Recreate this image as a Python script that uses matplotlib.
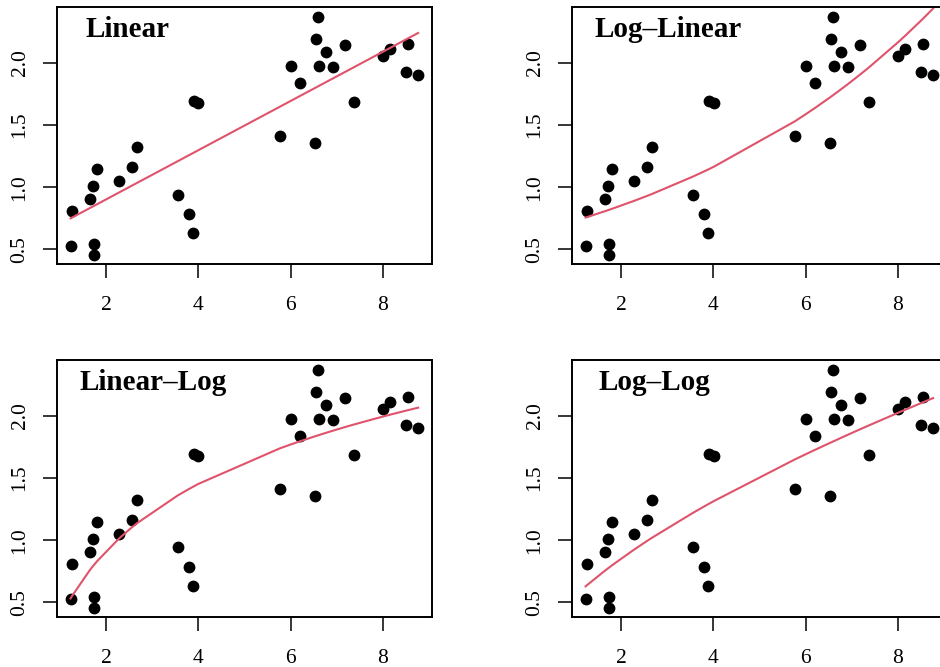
import numpy as np
import matplotlib.pyplot as plt

# data (same points in every panel)
x = np.array([1.233, 1.262, 1.653, 1.711, 1.747, 1.747, 1.812, 2.282, 2.564, 2.665,
              3.555, 3.794, 3.881, 3.917, 4.004, 5.761, 6.014, 6.195, 6.521, 6.542,
              6.600, 6.615, 6.759, 6.926, 7.172, 7.367, 7.996, 8.163, 8.495, 8.553, 8.763])
y = np.array([0.524, 0.813, 0.907, 1.014, 0.543, 0.457, 1.151, 1.052, 1.162, 1.325,
              0.942, 0.789, 0.631, 1.695, 1.681, 1.411, 1.976, 1.842, 1.354, 2.190,
              2.372, 1.976, 2.091, 1.965, 2.142, 1.684, 2.054, 2.113, 1.928, 2.153, 1.904])

titles = ["Linear", "Log\u2013Linear", "Linear\u2013Log", "Log\u2013Log"]
title_x = [0.078, 0.062, 0.060, 0.071]

plt.rcParams["font.family"] = ["Liberation Serif", "DejaVu Serif"]

# fitted models, drawn through the sorted x values like R's lines()
xs = np.sort(x)
fits = []
b = np.polyfit(x, y, 1)
fits.append(np.polyval(b, xs))
b = np.polyfit(x, np.log(y), 1)
fits.append(np.exp(np.polyval(b, xs)))
b = np.polyfit(np.log(x), y, 1)
fits.append(np.polyval(b, np.log(xs)))
b = np.polyfit(np.log(x), np.log(y), 1)
fits.append(np.exp(np.polyval(b, np.log(xs))))

fig = plt.figure(figsize=(9.4, 6.67), dpi=100)
lefts = [0.0603, 0.6082, 0.0603, 0.6082]
bottoms = [0.6037, 0.6037, 0.0745, 0.0745]

xr = x.max() - x.min()
yr = y.max() - y.min()

for i in range(4):
    ax = fig.add_axes([lefts[i], bottoms[i], 0.3993, 0.3855])
    ax.plot(x, y, "o", color="black", ms=8.5, mew=0)
    ax.plot(xs, fits[i], color="#DF536B", lw=1.5)
    ax.set_xlim(x.min() - 0.04 * xr, x.max() + 0.04 * xr)
    ax.set_ylim(y.min() - 0.04 * yr, y.max() + 0.04 * yr)
    ax.set_xticks([2, 4, 6, 8])
    ax.set_yticks([0.5, 1.0, 1.5, 2.0])
    ax.set_yticklabels(["0.5", "1.0", "1.5", "2.0"], rotation=90, va="center")
    ax.tick_params(direction="out", length=10, width=1.1, labelsize=15.5)
    ax.tick_params(axis="x", pad=13)
    ax.tick_params(axis="y", pad=9.5)
    for s in ax.spines.values():
        s.set_linewidth(1.4)
    ax.text(title_x[i], 0.884, titles[i], transform=ax.transAxes,
            fontsize=21, fontweight="bold", va="baseline", ha="left")

fig.savefig("out.png", dpi=100)
